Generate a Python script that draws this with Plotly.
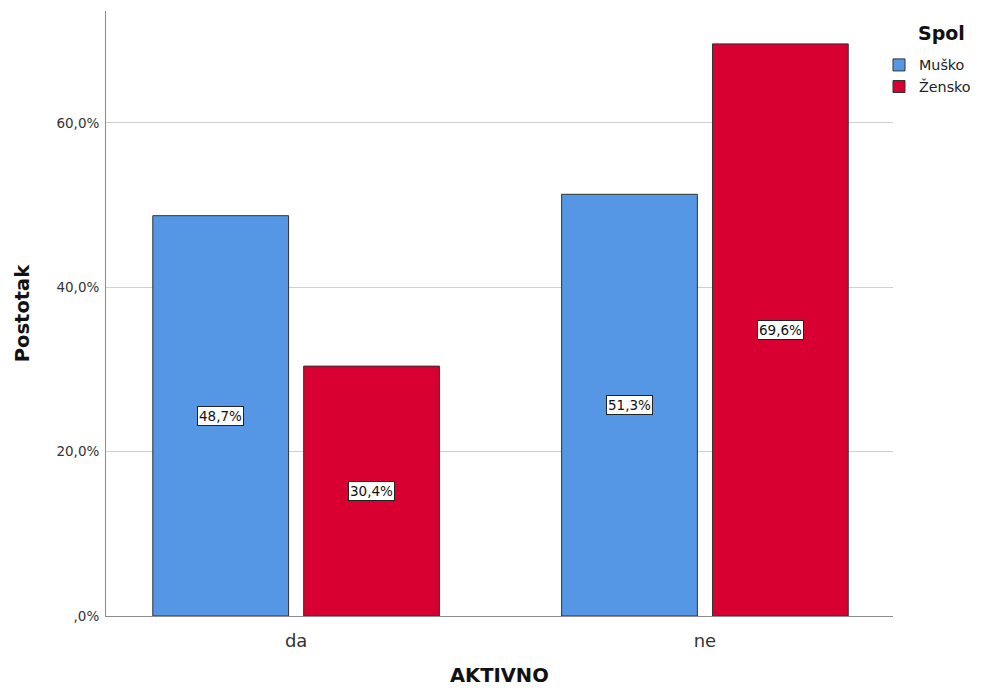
import plotly.graph_objects as go

categories = ["da", "ne"]
musko = [48.7, 51.3]
zensko = [30.4, 69.6]
series_names = ["Muško", "Žensko"]
colors = ["#5596E5", "#D70030"]
tick_vals = [0, 20, 40, 60]
tick_text = [",0%", "20,0%", "40,0%", "60,0%"]
legend_title = "Spol"
x_title = "AKTIVNO"
y_title = "Postotak"

FONT = "DejaVu Sans, Liberation Sans, Arial, sans-serif"

fig = go.Figure()
for name, vals, col in zip(series_names, [musko, zensko], colors):
    fig.add_trace(go.Bar(
        x=categories, y=vals, name=name,
        marker=dict(color=col, line=dict(color="#333333", width=1)),
        hoverinfo="skip",
    ))

shift = 75.5
for i, (name, vals) in enumerate(zip(series_names, [musko, zensko])):
    for c, v in zip(categories, vals):
        fig.add_annotation(
            x=c, y=v / 2, text=f"{v:.1f}%".replace(".", ","),
            showarrow=False, xshift=(-shift if i == 0 else shift),
            bgcolor="white", bordercolor="#222222", borderwidth=1, borderpad=1,
            font=dict(family=FONT, size=13.5, color="#111111"),
        )

fig.add_annotation(
    xref="paper", yref="paper", x=1.061, y=0.9636,
    xanchor="center", yanchor="middle", showarrow=False,
    text=f"<b>{legend_title}</b>",
    font=dict(family=FONT, size=19, color="#111111"),
)

fig.add_annotation(
    xref="paper", yref="paper", x=0.5, y=0, yshift=-59,
    xanchor="center", yanchor="middle", showarrow=False,
    text=f"<b>{x_title}</b>",
    font=dict(family=FONT, size=19.5, color="#111111"),
)

fig.update_layout(
    width=965, height=680,
    margin=dict(l=98, r=80, t=3, b=72, autoexpand=False),
    paper_bgcolor="white", plot_bgcolor="white",
    font=dict(family=FONT, color="#333333"),
    bargap=0.262, bargroupgap=0.1,
    showlegend=True,
    legend=dict(
        x=0.9822, y=0.937, xanchor="left", yanchor="top",
        font=dict(size=14.3, color="#222222"),
        itemwidth=30, tracegroupgap=0,
    ),
    xaxis=dict(
        range=[-0.465, 1.46],
        showline=True, linecolor="#8c8c8c", linewidth=1,
        ticks="", ticklabelstandoff=8,
        tickfont=dict(size=18, color="#333333"),
    ),
    yaxis=dict(
        range=[0, 73.6],
        tickvals=tick_vals, ticktext=tick_text,
        tickfont=dict(size=13.5, color="#333333"), ticklabelstandoff=3,
        showgrid=True, gridcolor="#cfcfcf", gridwidth=1,
        showline=True, linecolor="#8c8c8c", linewidth=1,
        zeroline=False, ticks="",
        title=dict(text=f"<b>{y_title}</b>", font=dict(size=19.5, color="#111111"), standoff=21),
    ),
)

fig.write_html("out.html")
